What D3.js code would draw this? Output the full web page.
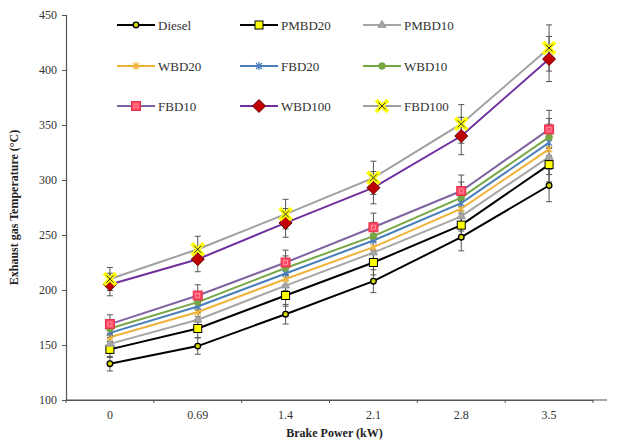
<!DOCTYPE html>
<html>
<head>
<meta charset="utf-8">
<script src="https://cdn.jsdelivr.net/npm/d3@7"></script>
<style>
  html, body { margin: 0; padding: 0; background: #fff; }
  svg { display: block; font-family: "Liberation Serif", "Times New Roman", serif; }
</style>
</head>
<body>
<svg id="chart" width="637" height="444"></svg>
<script>
// Brake power steps (kW)
const loads = ["0", "0.69", "1.4", "2.1", "2.8", "3.5"];

// Exhaust gas temperature (°C) for each fuel
const diesel = [133, 149, 178, 208, 248, 295];
const pmbd20 = [146, 165, 195, 225, 259, 314];
const pmbd10 = [151, 173, 204, 234, 267, 321];
const wbd20  = [157, 180, 210, 239, 274, 328];
const fbd20  = [161, 185, 215, 245, 279, 334];
const wbd10  = [165, 189, 220, 249, 284, 339];
const fbd10  = [169, 195, 225, 257, 290, 346];
const wbd100 = [205, 228, 261, 293, 340, 410];
const fbd100 = [210, 237, 269, 302, 351, 420];

// Percentage error bars applied to every point
const errorPercent = 5;

const yTicks = [100, 150, 200, 250, 300, 350, 400, 450];

const series = [
  { name: "Diesel", values: diesel, line: "#000000", marker: "circleSmall" },
  { name: "PMBD20", values: pmbd20, line: "#000000", marker: "squareYellow" },
  { name: "PMBD10", values: pmbd10, line: "#a6a6a6", marker: "triangle" },
  { name: "WBD20",  values: wbd20,  line: "#f0b33a", marker: "star" },
  { name: "FBD20",  values: fbd20,  line: "#4a7ebb", marker: "star" },
  { name: "WBD10",  values: wbd10,  line: "#77a645", marker: "circle" },
  { name: "FBD10",  values: fbd10,  line: "#8064a2", marker: "squareRed" },
  { name: "WBD100", values: wbd100, line: "#7030a0", marker: "diamond" },
  { name: "FBD100", values: fbd100, line: "#a0a0a0", marker: "xYellow" }
];

const svg = d3.select("#chart");
const margin = { left: 66, right: 44, top: 15, bottom: 44 };
const W = 637, H = 444;

const x = d3.scaleBand().domain(loads).range([margin.left, W - margin.right]).padding(0);
const y = d3.scaleLinear().domain([100, 450]).range([H - margin.bottom, margin.top]);

// Axes
const yAxis = svg.append("g")
  .attr("transform", `translate(${margin.left},0)`)
  .call(d3.axisLeft(y).tickValues(yTicks).tickSize(4).tickPadding(5));
const xAxis = svg.append("g")
  .attr("transform", `translate(0,${H - margin.bottom})`)
  .call(d3.axisBottom(x).tickSize(0).tickPadding(10));

// The category axis line runs a little past the last band
xAxis.append("line")
  .attr("x1", margin.left).attr("x2", W - 30)
  .attr("y1", 0).attr("y2", 0)
  .attr("stroke", "#555").attr("stroke-width", 1.2);

// Tick marks at category boundaries
xAxis.selectAll(".bound").data(d3.range(loads.length + 1)).enter().append("line")
  .attr("class", "bound")
  .attr("x1", i => margin.left + i * x.bandwidth())
  .attr("x2", i => margin.left + i * x.bandwidth())
  .attr("y1", 0).attr("y2", 3)
  .attr("stroke", "#555").attr("stroke-width", 1);

[yAxis, xAxis].forEach(g => {
  g.select(".domain").attr("stroke", "#555").attr("stroke-width", 1.2);
  g.selectAll(".tick line").attr("stroke", "#555");
  g.selectAll("text").attr("font-family", "Liberation Serif, serif")
    .attr("font-size", 12).attr("fill", "#333");
});

// Axis titles
svg.append("text")
  .attr("x", (margin.left + W - margin.right) / 2 + 5)
  .attr("y", 437)
  .attr("text-anchor", "middle")
  .attr("font-weight", "bold").attr("font-size", 12).attr("fill", "#222")
  .text("Brake Power (kW)");
svg.append("text")
  .attr("transform", `translate(18,${(margin.top + H - margin.bottom) / 2}) rotate(-90)`)
  .attr("text-anchor", "middle")
  .attr("font-weight", "bold").attr("font-size", 12).attr("fill", "#222")
  .text("Exhaust gas Temperature (°C)");

const cx = d => x(d) + x.bandwidth() / 2;

// Marker drawing
function drawMarker(g, type, px, py, color) {
  switch (type) {
    case "circleSmall":
      g.append("circle").attr("cx", px).attr("cy", py).attr("r", 2.8)
        .attr("fill", "#d4d400").attr("stroke", "#000").attr("stroke-width", 1.3);
      break;
    case "squareYellow":
      g.append("rect").attr("x", px - 4).attr("y", py - 4).attr("width", 8).attr("height", 8)
        .attr("fill", "#ffff00").attr("stroke", "#000").attr("stroke-width", 1);
      break;
    case "triangle":
      g.append("path").attr("d", d3.symbol(d3.symbolTriangle, 28)())
        .attr("transform", `translate(${px},${py})`)
        .attr("fill", "#a6a6a6").attr("stroke", "#999");
      break;
    case "star":
      g.append("path")
        .attr("d", `M${px - 3},${py - 3}L${px + 3},${py + 3}M${px - 3},${py + 3}L${px + 3},${py - 3}M${px},${py - 4}L${px},${py + 4}`)
        .attr("stroke", color).attr("stroke-width", 1.3).attr("fill", "none");
      break;
    case "circle":
      g.append("circle").attr("cx", px).attr("cy", py).attr("r", 3.3)
        .attr("fill", color).attr("stroke", color);
      break;
    case "squareRed":
      g.append("rect").attr("x", px - 4.5).attr("y", py - 4.5).attr("width", 9).attr("height", 9)
        .attr("fill", "#ff4a64").attr("stroke", "#e8304c").attr("stroke-width", 1);
      g.append("rect").attr("x", px - 2).attr("y", py - 2).attr("width", 4).attr("height", 4)
        .attr("fill", "none").attr("stroke", "#ff9aa8").attr("stroke-width", 0.8);
      break;
    case "diamond":
      g.append("path").attr("d", `M${px},${py - 6.5}L${px + 6.5},${py}L${px},${py + 6.5}L${px - 6.5},${py}Z`)
        .attr("fill", "#c00000").attr("stroke", "#6a0000").attr("stroke-width", 1);
      break;
    case "xYellow":
      g.append("path")
        .attr("d", `M${px - 4.5},${py - 4.5}L${px + 4.5},${py + 4.5}M${px - 4.5},${py + 4.5}L${px + 4.5},${py - 4.5}`)
        .attr("stroke", "#ffff00").attr("stroke-width", 4).attr("stroke-linecap", "square");
      g.append("path")
        .attr("d", `M${px - 3.5},${py - 3.5}L${px + 3.5},${py + 3.5}M${px - 3.5},${py + 3.5}L${px + 3.5},${py - 3.5}`)
        .attr("stroke", "#333").attr("stroke-width", 1);
      break;
  }
}

// Error bars
const errG = svg.append("g");
series.forEach(s => {
  s.values.forEach((v, i) => {
    const e = v * errorPercent / 100;
    const px = cx(loads[i]);
    errG.append("path")
      .attr("d", `M${px},${y(v + e)}L${px},${y(v - e)}M${px - 3},${y(v + e)}L${px + 3},${y(v + e)}M${px - 3},${y(v - e)}L${px + 3},${y(v - e)}`)
      .attr("stroke", "#555").attr("stroke-width", 1).attr("fill", "none");
  });
});

// Lines
const line = d3.line().x((d, i) => cx(loads[i])).y(d => y(d));
const lineG = svg.append("g");
series.forEach(s => {
  lineG.append("path").datum(s.values).attr("d", line)
    .attr("fill", "none").attr("stroke", s.line).attr("stroke-width", 2);
});

// Markers
const markG = svg.append("g");
series.forEach(s => {
  s.values.forEach((v, i) => drawMarker(markG, s.marker, cx(loads[i]), y(v), s.line));
});

// Legend: three columns, three rows
const legG = svg.append("g");
const colX = [117, 240, 363];
const rowY = [25, 66, 106];
series.forEach((s, k) => {
  const lx = colX[k % 3], ly = rowY[Math.floor(k / 3)];
  legG.append("line").attr("x1", lx).attr("x2", lx + 38).attr("y1", ly).attr("y2", ly)
    .attr("stroke", s.line).attr("stroke-width", 2);
  drawMarker(legG, s.marker, lx + 19, ly, s.line);
  legG.append("text").attr("x", lx + 41).attr("y", ly + 4.5)
    .attr("font-size", 13).attr("fill", "#333").text(s.name);
});
</script>
</body>
</html>
